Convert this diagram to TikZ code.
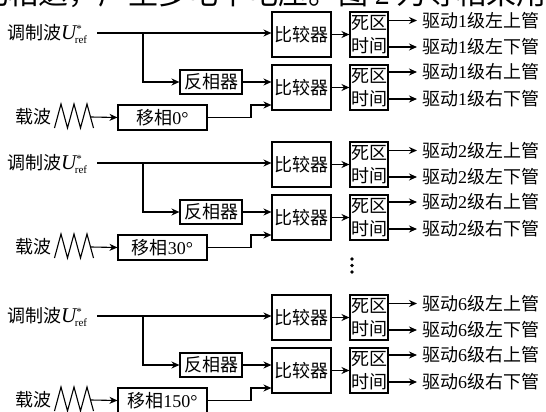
\documentclass[tikz,border=0pt]{standalone}
\usepackage{fontspec}
\setmainfont{Liberation Serif}
\newfontfamily\cjk{Noto Sans CJK SC}
\newfontfamily\lat{Liberation Serif}
\usetikzlibrary{arrows.meta,calc}
\tikzset{
  box/.style={draw, line width=1.1pt, inner sep=0pt, font=\cjk\fontsize{18}{23}\selectfont},
  lbl/.style={inner sep=0pt, font=\cjk\fontsize{18}{23}\selectfont, text height=15.8pt, text depth=2.2pt},
  conn/.style={line width=1.1pt, -{Stealth[length=8pt,width=7pt]}},
  wire/.style={line width=1.1pt, line join=miter},
}
\begin{document}
\begin{tikzpicture}[x=1pt,y=-1pt]
\useasboundingbox (0,0) rectangle (546,412);
\node[anchor=base west, inner sep=0pt, font=\cjk\fontsize{30}{30}\selectfont] (top) at (-22,5) {电相迭，产生多电平电压。图~{\lat 2}~为等相采用的};
\foreach \off/\n/\p [count=\i] in {0/1/0,130/2/30,283/6/150} {
  \node[lbl, anchor=west] (mod\i) at (7,33+\off) {调制波{\lat\itshape\fontsize{21}{21}\selectfont U}\makebox[0pt][l]{\raisebox{7pt}{\lat\fontsize{11}{11}\selectfont *}}\kern-1.5pt\raisebox{-4pt}{\lat\fontsize{11}{11}\selectfont ref}};
  \coordinate (s\i) at (97,33+\off);
  \coordinate (br\i) at (143,33+\off);
  \node[box, minimum width=59pt, minimum height=45pt] (cmpA\i) at (301.5,34.5+\off) {比较器};
  \node[box, minimum width=59pt, minimum height=45pt] (cmpB\i) at (301.5,87.5+\off) {比较器};
  \node[box, minimum width=38pt, minimum height=45pt, align=center] (dtA\i) at (369,34.5+\off) {死区\\时间};
  \node[box, minimum width=38pt, minimum height=45pt, align=center] (dtB\i) at (369,87.5+\off) {死区\\时间};
  \node[box, minimum width=62pt, minimum height=24pt] (inv\i) at (211,82+\off) {反相器};
  \node[box, minimum width=89pt, minimum height=25pt] (ph\i) at (162.5,117.5+\off) {移相{\lat \p{}°}};
  \node[lbl, anchor=west] (car\i) at (15,117+\off) {载波};
  \coordinate (z\i) at (91,117+\off);
  \coordinate (k\i) at (251,105+\off);
  \node[lbl, anchor=west, inner xsep=5pt] (oa\i) at (417,20.5+\off) {驱动{\lat\n}级左上管};
  \node[lbl, anchor=west, inner xsep=5pt] (ob\i) at (417,47+\off) {驱动{\lat\n}级左下管};
  \node[lbl, anchor=west, inner xsep=5pt] (oc\i) at (417,72+\off) {驱动{\lat\n}级右上管};
  \node[lbl, anchor=west, inner xsep=5pt] (od\i) at (417,99+\off) {驱动{\lat\n}级右下管};
  \draw[conn] (s\i) -- (s\i -| cmpA\i.west);
  \draw[conn] (br\i) |- (inv\i.west);
  \draw[conn] (inv\i.east) -- (inv\i.east -| cmpB\i.west);
  \draw[conn] (ph\i.east) -| (k\i) -- (k\i -| cmpB\i.west);
  \draw[conn] (cmpA\i.east) -- (dtA\i.west);
  \draw[conn] (cmpB\i.east) -- (dtB\i.west);
  \draw[conn] (oa\i.west -| dtA\i.east) -- (oa\i.west);
  \draw[conn] (ob\i.west -| dtA\i.east) -- (ob\i.west);
  \draw[conn] (oc\i.west -| dtB\i.east) -- (oc\i.west);
  \draw[conn] (od\i.west -| dtB\i.east) -- (od\i.west);
  \draw[wire] (54.5,128+\off) -- (61,104+\off) -- (67.5,128+\off) -- (74,104+\off) -- (80.5,128+\off) -- (87,104+\off) -- (93.5,128+\off);
  \draw[conn] (z\i) -- (ph\i.west);
}
\fill (352,259) circle (1.8pt);
\fill (352,265.5) circle (1.8pt);
\fill (352,272) circle (1.8pt);
\end{tikzpicture}
\end{document}
